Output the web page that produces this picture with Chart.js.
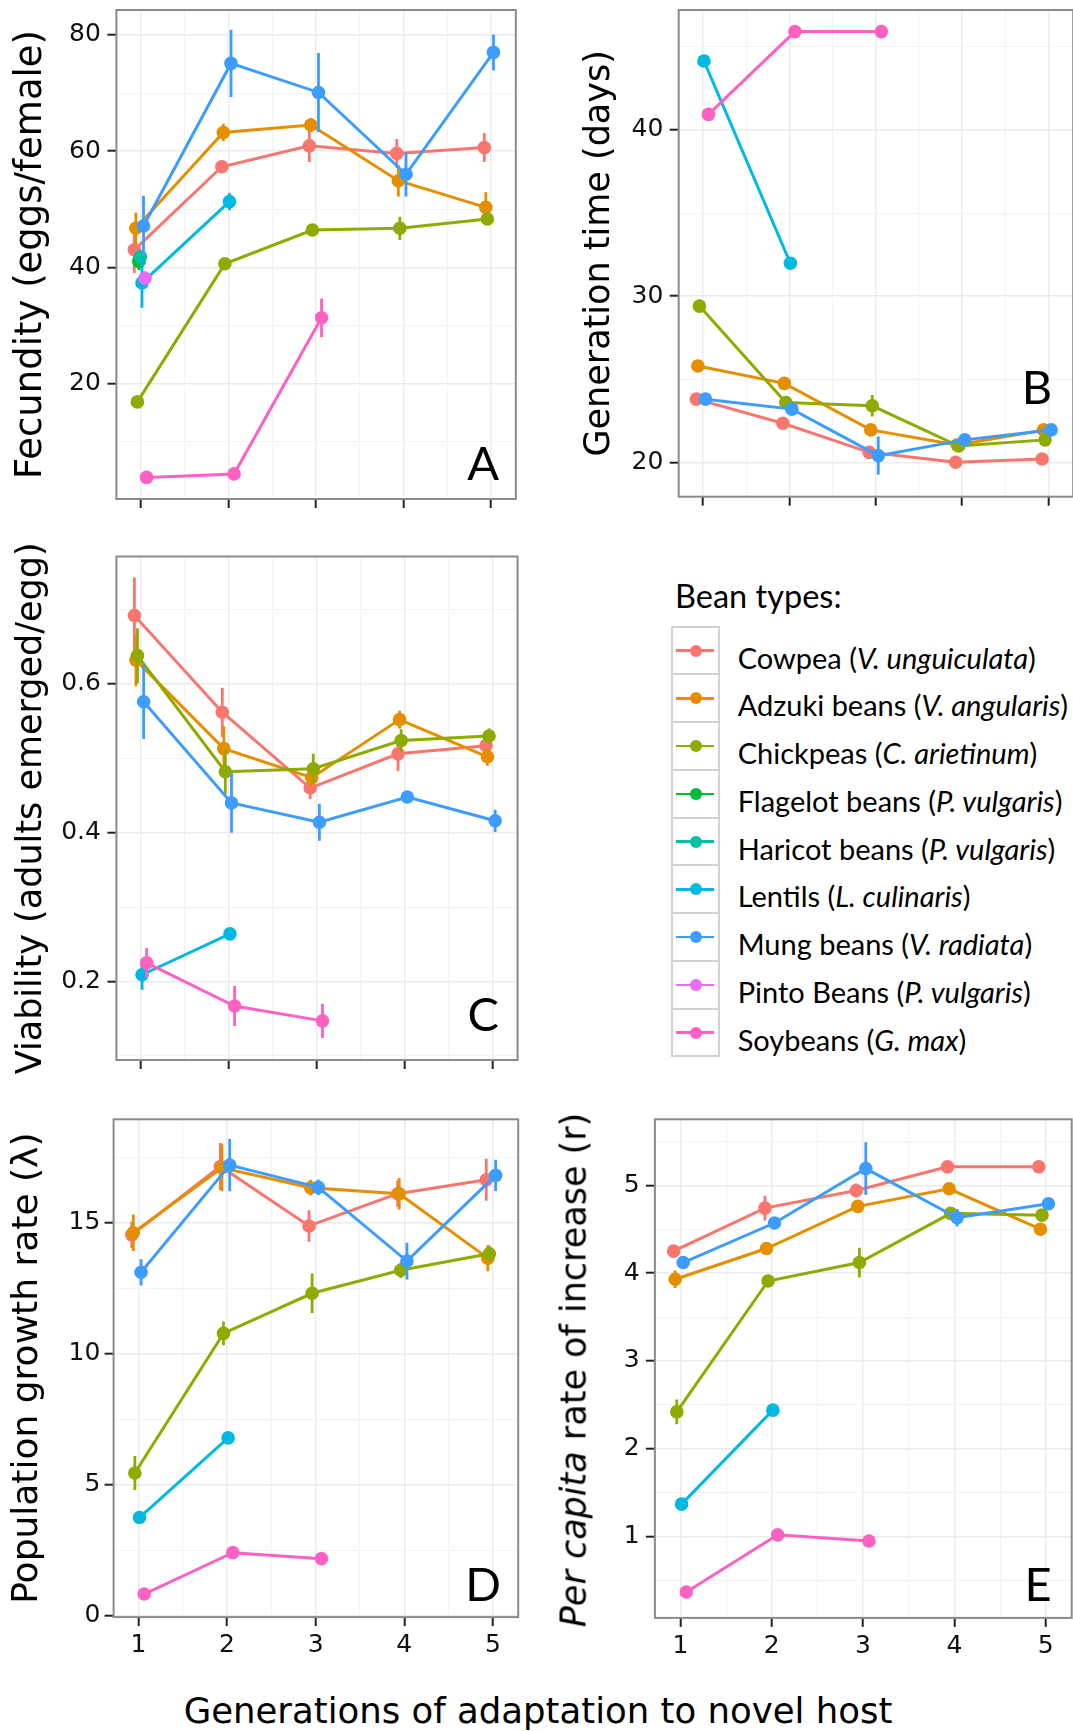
<!DOCTYPE html>
<html>
<head>
<meta charset="utf-8">
<script src="https://cdn.jsdelivr.net/npm/chart.js@4.4.1/dist/chart.umd.min.js"></script>
<style>
html,body{margin:0;padding:0;background:#fff;width:1073px;height:1731px;overflow:hidden;position:relative}
canvas{position:absolute}
.ytitle{position:absolute;font-family:'DejaVu Sans';font-size:35px;line-height:35px;white-space:nowrap;transform:translate(-50%,-50%) rotate(-90deg);color:#000}
.xtitle{position:absolute;font-family:'DejaVu Sans';font-size:35.5px;line-height:35.5px;white-space:nowrap;transform:translateX(-50%);color:#000}
.legtitle{position:absolute;font-family:Lato;font-size:32.5px;line-height:32.5px;color:#000}
.keybox{position:absolute;box-sizing:border-box;border:2px solid #d2d2d2;background:#fff}
.keyline{position:absolute;height:2.5px}
.keydot{position:absolute;width:12px;height:12px;border-radius:50%}
.legtext{position:absolute;font-family:Lato;font-size:29px;line-height:29px;white-space:nowrap;color:#000}
</style>
</head>
<body>
<canvas id="pA" width="530" height="525" style="left:0px;top:0px"></canvas>
<canvas id="pB" width="540" height="525" style="left:540px;top:0px"></canvas>
<canvas id="pC" width="530" height="540" style="left:0px;top:540px"></canvas>
<canvas id="pD" width="530" height="580" style="left:0px;top:1100px"></canvas>
<canvas id="pE" width="540" height="580" style="left:540px;top:1100px"></canvas>
<div class="ytitle" style="left:573.8px;top:1370px"><i>Per capita</i> rate of increase (r)</div>
<div class="xtitle" style="left:538px;top:1692.5px">Generations of adaptation to novel host</div>
<div id="legend"></div>
<script>
// ---------- data ----------
const generations = [1, 2, 3, 4, 5];
const beanNames = ['Cowpea', 'Adzuki beans', 'Chickpeas', 'Flagelot beans', 'Haricot beans', 'Lentils', 'Mung beans', 'Pinto Beans', 'Soybeans'];
const beanSpecies = ['V. unguiculata', 'V. angularis', 'C. arietinum', 'P. vulgaris', 'P. vulgaris', 'L. culinaris', 'V. radiata', 'P. vulgaris', 'G. max'];
const beanColors = ['#F8766D', '#E58F00', '#8FAA00', '#00BA38', '#00C19F', '#00B9E3', '#3D9DFF', '#E86BF5', '#FF61C3'];

// Fecundity (eggs/female), panel A
const fecundityTicks = [20, 40, 60, 80];
const fecundity = [
  [43.0, 57.3, 60.9, 59.6, 60.6],
  [46.7, 63.2, 64.5, 54.9, 50.3],
  [16.8, 40.6, 46.4, 46.7, 48.3],
  [41.0],
  [41.8],
  [37.3, 51.3],
  [47.1, 75.1, 70.1, 56.0, 77.0],
  [38.1],
  [3.8, 4.4, 31.3]
];
const fecundityErr = [
  [4.0, 1.0, 2.8, 2.5, 2.5],
  [2.7, 1.5, 1.2, 2.7, 2.6],
  [1.0, 1.0, 0.5, 2.0, 0.5],
  [1.5],
  [1.0],
  [4.3, 1.5],
  [5.2, 5.8, 6.8, 3.8, 3.1],
  [1.2],
  [0.3, 0.3, 3.3]
];

// Generation time (days), panel B
const genTimeTicks = [20, 30, 40];
const genTime = [
  [23.8, 22.35, 20.6, 20.0, 20.2],
  [25.8, 24.75, 21.95, 21.05, 21.95],
  [29.4, 23.6, 23.4, 20.98, 21.35],
  [],
  [],
  [44.15, 31.98],
  [23.8, 23.2, 20.4, 21.35, 21.95],
  [],
  [40.94, 45.92, 45.92]
];
const genTimeErr = [
  [0.2, 0.3, 0.3, 0.1, 0.1],
  [0.3, 0.2, 0.2, 0.1, 0.1],
  [0.4, 0.3, 0.65, 0.2, 0.2],
  [],
  [],
  [0.3, 0.2],
  [0.2, 0.2, 1.15, 0.2, 0.2],
  [],
  [0.1, 0.1, 0.1]
];

// Viability (adults emerged/egg), panel C
const viabilityTicks = [0.2, 0.4, 0.6];
const viability = [
  [0.692, 0.562, 0.460, 0.506, 0.517],
  [0.632, 0.513, 0.474, 0.552, 0.502],
  [0.638, 0.482, 0.486, 0.524, 0.530],
  [],
  [],
  [0.209, 0.264],
  [0.576, 0.440, 0.414, 0.448, 0.416],
  [],
  [0.225, 0.167, 0.147]
];
const viabilityErr = [
  [0.051, 0.033, 0.015, 0.023, 0.010],
  [0.035, 0.030, 0.012, 0.012, 0.012],
  [0.037, 0.030, 0.020, 0.015, 0.010],
  [],
  [],
  [0.020, 0.005],
  [0.050, 0.040, 0.025, 0.005, 0.015],
  [],
  [0.020, 0.027, 0.023]
];

// Population growth rate (lambda), panel D
const growthTicks = [0, 5, 10, 15];
const growth = [
  [14.54, 17.15, 14.88, 16.11, 16.64],
  [14.62, 17.10, 16.34, 16.11, 13.65],
  [5.45, 10.78, 12.31, 13.19, 13.82],
  [],
  [],
  [3.75, 6.79],
  [13.11, 17.20, 16.35, 13.54, 16.81],
  [],
  [0.83, 2.41, 2.18]
];
const growthErr = [
  [0.5, 0.9, 0.6, 0.5, 0.8],
  [0.7, 0.9, 0.3, 0.6, 0.5],
  [0.65, 0.45, 0.75, 0.3, 0.3],
  [],
  [],
  [0.1, 0.1],
  [0.5, 1.0, 0.3, 0.7, 0.6],
  [],
  [0.05, 0.05, 0.05]
];

// Per capita rate of increase (r), panel E
const rateTicks = [1, 2, 3, 4, 5];
const rate = [
  [4.25, 4.74, 4.94, 5.21, 5.21],
  [3.93, 4.28, 4.76, 4.96, 4.50],
  [2.42, 3.91, 4.12, 4.68, 4.66],
  [],
  [],
  [1.37, 2.44],
  [4.12, 4.57, 5.19, 4.63, 4.79],
  [],
  [0.37, 1.02, 0.95]
];
const rateErr = [
  [0.05, 0.14, 0.08, 0.05, 0.07],
  [0.10, 0.05, 0.05, 0.05, 0.05],
  [0.14, 0.05, 0.17, 0.05, 0.05],
  [],
  [],
  [0.02, 0.02],
  [0.05, 0.05, 0.30, 0.10, 0.05],
  [],
  [0.02, 0.02, 0.02]
];

// ---------- drawing ----------
Chart.defaults.font.family = 'DejaVu Sans';

const TICK_FONT = {family: 'DejaVu Sans', size: 25};
const TICK_COLOR = '#111';

function buildTicks(majors, min, max) {
  const step = majors.length > 1 ? majors[1] - majors[0] : 1;
  const out = [];
  const first = majors[0] - step * 10;
  for (let k = 0; k < 200; k++) {
    const v = +(first + k * step / 2).toFixed(6);
    if (v > max) break;
    if (v >= min) out.push({value: v, mj: k % 2 === 0});
  }
  return out;
}

const gridOpts = {
  color: c => (c.tick && c.tick.mj) ? '#EBEBEB' : '#F3F3F3',
  lineWidth: c => (c.tick && c.tick.mj) ? 1.4 : 1.0,
  tickColor: c => (c.tick && c.tick.mj) ? '#222' : 'rgba(0,0,0,0)',
  tickWidth: 2,
  tickLength: 9,
  drawTicks: true,
  drawOnChartArea: true
};

const errorBarPlugin = {
  id: 'errorBars',
  beforeDatasetDraw(chart, args) {
    const ds = chart.data.datasets[args.index];
    const xs = chart.scales.x, ys = chart.scales.y, ctx = chart.ctx;
    ctx.save();
    ctx.strokeStyle = ds.borderColor;
    ctx.lineWidth = 2.8;
    ctx.beginPath();
    ds.data.forEach(p => {
      if (!p.e) return;
      const px = xs.getPixelForValue(p.x);
      ctx.moveTo(px, ys.getPixelForValue(p.y - p.e));
      ctx.lineTo(px, ys.getPixelForValue(p.y + p.e));
    });
    ctx.stroke();
    ctx.restore();
  }
};

const frameLetterPlugin = {
  id: 'frameLetter',
  afterDatasetsDraw(chart, args, opts) {
    const {ctx, chartArea: a} = chart;
    ctx.save();
    ctx.strokeStyle = '#8a8a8a';
    ctx.lineWidth = 2;
    ctx.strokeRect(a.left, a.top, a.right - a.left, a.bottom - a.top);
    ctx.fillStyle = '#000';
    ctx.font = '47px Lato';
    ctx.textAlign = 'right';
    ctx.textBaseline = 'alphabetic';
    ctx.fillText(opts.text, a.right - opts.dx, a.bottom - opts.dy);
    ctx.restore();
  }
};

function makePanel(p) {
  const datasets = [];
  p.means.forEach((row, i) => {
    const errs = p.errs[i] || [];
    const pts = [];
    generations.forEach((g, j) => {
      const v = row[j];
      if (v === undefined || v === null) return;
      pts.push({x: g + (i - 4.3) * 0.0175, y: v, e: errs[j] || 0});
    });
    if (!pts.length) return;
    datasets.push({
      label: beanNames[i], data: pts,
      borderColor: beanColors[i], backgroundColor: beanColors[i],
      pointBackgroundColor: beanColors[i], pointBorderWidth: 0,
      pointRadius: 6.8, pointHoverRadius: 6.8, borderWidth: 3, tension: 0,
      order: 9 - i
    });
  });
  const b = p.box;
  const xTicks = buildTicks(generations, 0.72, 5.285);
  const yTicks = buildTicks(p.yTicks, p.yMin, p.yMax);
  return new Chart(document.getElementById(p.id), {
    type: 'line',
    data: {datasets},
    plugins: [errorBarPlugin, frameLetterPlugin],
    options: {
      responsive: false, animation: false, devicePixelRatio: 1,
      layout: {padding: {left: 0, top: b.plotT - b.top, right: b.left + b.w - b.plotR, bottom: 0}},
      plugins: {
        legend: {display: false}, tooltip: {enabled: false},
        frameLetter: {text: p.letter, dx: p.letterDx, dy: p.letterDy}
      },
      scales: {
        x: {
          type: 'linear', min: 0.72, max: 5.285,
          afterBuildTicks: s => { s.ticks = xTicks.map(t => ({...t})); },
          ticks: {display: p.xLabels, autoSkip: false, maxRotation: 0, font: TICK_FONT, color: TICK_COLOR, padding: 4.2,
            callback: (v, i, t) => t[i].mj ? String(v) : ''},
          grid: gridOpts, border: {display: false},
          afterFit: s => { s.height = b.top + b.h - b.plotB; s.paddingLeft = 0; s.paddingRight = 0; s.paddingTop = 0; s.paddingBottom = 0; }
        },
        y: {
          type: 'linear', min: p.yMin, max: p.yMax,
          afterBuildTicks: s => { s.ticks = yTicks.map(t => ({...t})); },
          ticks: {autoSkip: false, font: TICK_FONT, color: TICK_COLOR, padding: p.tickPad,
            callback: (v, i, t) => t[i].mj ? String(v) : ''},
          grid: gridOpts, border: {display: false},
          title: {display: !!p.title, text: p.title || '', color: '#000',
            font: {family: 'DejaVu Sans', size: p.titleSize || 35}, padding: {top: p.titlePad || 0, bottom: 0}},
          afterFit: s => { s.width = b.plotL - b.left; s.paddingLeft = 0; s.paddingRight = 0; s.paddingTop = 0; s.paddingBottom = 0; }
        }
      }
    }
  });
}

makePanel({id: 'pA', means: fecundity, errs: fecundityErr, yTicks: fecundityTicks, yMin: 0.08, yMax: 84.3,
  title: 'Fecundity (eggs/female)', titleSize: 37, titlePad: 9.2, tickPad: 6.5, letter: 'A', letterDx: 16.8, letterDy: 19, xLabels: false,
  box: {left: 0, top: 0, w: 530, h: 525, plotL: 116.4, plotR: 515.8, plotT: 10, plotB: 499}});
makePanel({id: 'pB', means: genTime, errs: genTimeErr, yTicks: genTimeTicks, yMin: 17.93, yMax: 47.22,
  title: 'Generation time (days)', titleSize: 35, titlePad: 39.3, tickPad: 6.3, letter: 'B', letterDx: 21, letterDy: 92.7, xLabels: false,
  box: {left: 540, top: 0, w: 540, h: 525, plotL: 678.7, plotR: 1074.4, plotT: 10, plotB: 496.7}});
makePanel({id: 'pC', means: viability, errs: viabilityErr, yTicks: viabilityTicks, yMin: 0.0944, yMax: 0.7713,
  title: 'Viability (adults emerged/egg)', titleSize: 35, titlePad: 10.9, tickPad: 6.5, letter: 'C', letterDx: 18.6, letterDy: 29.3, xLabels: false,
  box: {left: 0, top: 540, w: 530, h: 540, plotL: 116.4, plotR: 517.6, plotT: 556.5, plotB: 1060}});
makePanel({id: 'pD', means: growth, errs: growthErr, yTicks: growthTicks, yMin: -0.05, yMax: 18.95,
  title: 'Population growth rate (\u03BB)', titleSize: 36, titlePad: 5.8, tickPad: 4.2, letter: 'D', letterDx: 17.2, letterDy: 16, xLabels: true,
  box: {left: 0, top: 1100, w: 530, h: 580, plotL: 113.6, plotR: 518.2, plotT: 1119.3, plotB: 1617.1}});
makePanel({id: 'pE', means: rate, errs: rateErr, yTicks: rateTicks, yMin: 0.0745, yMax: 5.751,
  title: '', titlePad: 0, tickPad: 6.3, letter: 'E', letterDx: 20, letterDy: 17, xLabels: true,
  box: {left: 540, top: 1100, w: 540, h: 580, plotL: 654.9, plotR: 1071.7, plotT: 1119.3, plotB: 1617.9}});

// ---------- legend ----------
(function () {
  const L = document.getElementById('legend');
  const title = document.createElement('div');
  title.className = 'legtitle';
  title.style.left = '675px';
  title.style.top = (609 - 0.887 * 32.5) + 'px';
  title.textContent = 'Bean types:';
  L.appendChild(title);
  const top0 = 626.7, rowH = 47.75;
  beanNames.forEach((name, i) => {
    const rt = top0 + i * rowH;
    const box = document.createElement('div');
    box.className = 'keybox';
    box.style.left = '671px'; box.style.top = (rt - 1) + 'px';
    box.style.width = '49px'; box.style.height = (rowH + 2) + 'px';
    L.appendChild(box);
    const line = document.createElement('div');
    line.className = 'keyline';
    line.style.left = '676px'; line.style.width = '38px';
    line.style.top = (rt + rowH / 2 - 1.25) + 'px';
    line.style.background = beanColors[i];
    L.appendChild(line);
    const dot = document.createElement('div');
    dot.className = 'keydot';
    dot.style.left = (696 - 6) + 'px';
    dot.style.top = (rt + rowH / 2 - 6) + 'px';
    dot.style.background = beanColors[i];
    L.appendChild(dot);
    const t = document.createElement('div');
    t.className = 'legtext';
    t.style.left = '737.7px';
    t.style.top = (rt + 41.6 - 0.887 * 29) + 'px';
    t.appendChild(document.createTextNode(name + ' ('));
    const it = document.createElement('i');
    it.textContent = beanSpecies[i];
    t.appendChild(it);
    t.appendChild(document.createTextNode(')'));
    L.appendChild(t);
  });
})();
</script>
</body>
</html>
